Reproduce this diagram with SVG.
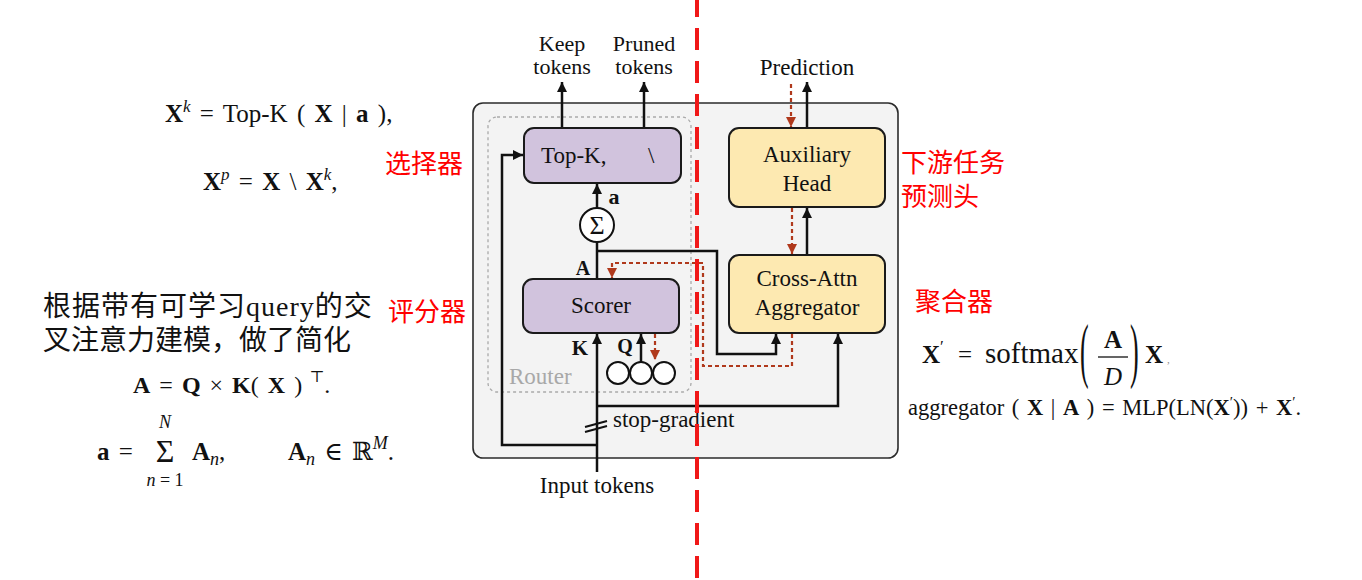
<svg xmlns="http://www.w3.org/2000/svg" width="1362" height="580" viewBox="0 0 1362 580">
<style>
.t{font-family:"Liberation Serif","DejaVu Serif",serif;fill:#111}
.lbl{font-size:23px}
.b{font-weight:bold}
.i{font-style:italic}
.cn{font-family:"Noto Sans CJK SC","Noto Sans",sans-serif;font-size:26px;fill:#f00}
.cnb{font-family:"Liberation Serif","Noto Sans CJK SC",serif;font-size:28px;fill:#111}
.purple{fill:#d1c3dd;stroke:#1a1a1a;stroke-width:2}
.yellow{fill:#fde9b1;stroke:#1a1a1a;stroke-width:2}
.ln{fill:none;stroke:#111;stroke-width:2.5}
.rd{fill:none;stroke:#b0391c;stroke-width:2.2;stroke-dasharray:4 3}
.eq{word-spacing:3px}
</style>
<defs>
<marker id="ah" markerUnits="userSpaceOnUse" markerWidth="10" markerHeight="13" refX="10" refY="5" orient="auto" viewBox="0 0 10 10">
<path d="M0,0 L10,5 L0,10 Z" fill="#111"/>
</marker>
<marker id="ahr" markerUnits="userSpaceOnUse" markerWidth="10" markerHeight="11" refX="10" refY="5" orient="auto" viewBox="0 0 10 10">
<path d="M0,0 L10,5 L0,10 Z" fill="#b0391c"/>
</marker>
</defs>
<rect width="1362" height="580" fill="#fff"/>

<!-- left formulas -->
<g id="formulas-left" class="t">
<text class="eq" x="165" y="122" font-size="25"><tspan class="b">X</tspan><tspan class="i" font-size="17" dy="-10">k</tspan><tspan dy="10"> = Top-K ( </tspan><tspan class="b">X</tspan> | <tspan class="b">a</tspan> ),</text>
<text class="eq" x="203" y="190" font-size="25"><tspan class="b">X</tspan><tspan class="i" font-size="17" dy="-10">p</tspan><tspan dy="10"> = </tspan><tspan class="b">X</tspan> \ <tspan class="b">X</tspan><tspan class="i" font-size="17" dy="-10">k</tspan><tspan dy="10">,</tspan></text>
<text class="eq" x="133" y="393" font-size="24"><tspan class="b">A</tspan> = <tspan class="b">Q</tspan> × <tspan class="b">K</tspan>( <tspan class="b">X</tspan> )<tspan font-size="16" dy="-11"> ⊤</tspan><tspan dy="11">.</tspan></text>
<text class="eq" x="97" y="460" font-size="25"><tspan class="b">a</tspan> =</text>
<text x="165" y="462" font-size="32" text-anchor="middle">Σ</text>
<text x="165" y="428" font-size="18" text-anchor="middle" class="i">N</text>
<text x="165" y="486" font-size="18" text-anchor="middle"><tspan class="i">n</tspan> = 1</text>
<text x="192" y="460" font-size="25"><tspan class="b">A</tspan><tspan class="i" font-size="18" dy="5">n</tspan><tspan dy="-5">,</tspan></text>
<text class="eq" x="288" y="460" font-size="25"><tspan class="b">A</tspan><tspan class="i" font-size="18" dy="5">n</tspan><tspan dy="-5"> ∈ ℝ</tspan><tspan class="i" font-size="18" dy="-11">M</tspan><tspan dy="11">.</tspan></text>
</g>

<g id="note-cn">
<text class="cnb" x="43" y="316" letter-spacing="1">根据带有可学习query的交</text>
<text class="cnb" x="43" y="350">叉注意力建模，做了简化</text>
</g>

<!-- right formulas -->
<g id="formulas-right" class="t">
<text x="922" y="363" font-size="25"><tspan class="b">X</tspan><tspan font-size="17" dy="-11">′</tspan></text>
<text x="958" y="363" font-size="25">=</text>
<text x="985" y="363" font-size="29">softmax</text>
<text transform="translate(1080,374) scale(1,2.8)" font-size="26">(</text>
<text x="1113" y="348" font-size="25" text-anchor="middle" class="b">A</text>
<line x1="1098" y1="357" x2="1128" y2="357" stroke="#111" stroke-width="1.3"/>
<text x="1113" y="385" font-size="25" text-anchor="middle" class="i">D</text>
<text transform="translate(1130,374) scale(1,2.8)" font-size="26">)</text>
<text x="1145" y="363" font-size="25" class="b">X</text>
<text x="1167" y="363" font-size="11" fill="#888">,</text>
<text x="908" y="415" font-size="22.5" style="word-spacing:2px">aggregator ( <tspan class="b">X</tspan> | <tspan class="b">A</tspan> )  = MLP(LN(<tspan class="b">X</tspan><tspan font-size="15" dy="-8">′</tspan><tspan dy="8">)) + </tspan><tspan class="b">X</tspan><tspan font-size="15" dy="-8">′</tspan><tspan dy="8">.</tspan></text>
</g>

<!-- containers -->
<g id="main-box">
<rect x="473" y="103" width="425" height="355" rx="10" fill="#f3f3f3" stroke="#2b2b2b" stroke-width="1.6"/>
</g>
<g id="router">
<rect x="488" y="117" width="203" height="275" rx="9" fill="none" stroke="#aaa" stroke-width="1.3" stroke-dasharray="3 3"/>
<text class="t lbl" x="509" y="384" style="fill:#a8a8a8">Router</text>
</g>

<!-- connectors -->
<g id="connectors">
<path class="ln" d="M597,472 V334" marker-end="url(#ah)"/>
<path class="ln" d="M597,445 H502 V155 H523" marker-end="url(#ah)"/>
<path class="ln" d="M597,406 H838 V334" marker-end="url(#ah)"/>
<path class="ln" d="M597,279 V242"/>
<path class="ln" d="M597,208 V184" marker-end="url(#ah)"/>
<path class="ln" d="M597,251 H717 V354 H776 V334" marker-end="url(#ah)"/>
<path class="ln" d="M641,362 V334" marker-end="url(#ah)"/>
<path class="ln" d="M562,128 V82" marker-end="url(#ah)"/>
<path class="ln" d="M644,128 V82" marker-end="url(#ah)"/>
<path class="ln" d="M807,255 V208" marker-end="url(#ah)"/>
<path class="ln" d="M807,128 V82" marker-end="url(#ah)"/>
<path class="rd" d="M791,84 V127" marker-end="url(#ahr)"/>
<path class="rd" d="M792,208 V254" marker-end="url(#ahr)"/>
<path class="rd" d="M792,334 V366 H703 V263 H612 V278" marker-end="url(#ahr)"/>
<path class="rd" d="M655,334 V360" marker-end="url(#ahr)"/>
<line x1="585" y1="427" x2="607" y2="421" stroke="#111" stroke-width="2"/>
<line x1="585" y1="432" x2="607" y2="426" stroke="#111" stroke-width="2"/>
<text class="t lbl" x="613" y="427">stop-gradient</text>
<text class="t b" x="580" y="355" font-size="21" text-anchor="middle">K</text>
<text class="t b" x="625" y="353" font-size="20" text-anchor="middle">Q</text>
<text class="t b" x="583" y="275" font-size="20" text-anchor="middle">A</text>
<text class="t b" x="614" y="204" font-size="22" text-anchor="middle">a</text>
</g>

<!-- nodes -->
<g id="topk">
<rect class="purple" x="524" y="128" width="157" height="55" rx="10"/>
<text class="t lbl" x="541" y="163">Top-K,</text>
<text class="t lbl" x="648" y="163">\</text>
</g>
<g id="sum">
<circle cx="597" cy="225" r="17" fill="#fff" stroke="#111" stroke-width="2"/>
<text class="t" x="597" y="234" font-size="26" text-anchor="middle">Σ</text>
</g>
<g id="scorer">
<rect class="purple" x="523" y="279" width="156" height="54" rx="10"/>
<text class="t lbl" x="601" y="313" text-anchor="middle">Scorer</text>
</g>
<g id="queries">
<circle cx="618" cy="373" r="11" fill="#fff" stroke="#111" stroke-width="2"/>
<circle cx="641" cy="373" r="11" fill="#fff" stroke="#111" stroke-width="2"/>
<circle cx="664" cy="373" r="11" fill="#fff" stroke="#111" stroke-width="2"/>
</g>
<g id="aux-head">
<rect class="yellow" x="729" y="128" width="156" height="79" rx="10"/>
<text class="t lbl" x="807" y="162" text-anchor="middle">Auxiliary</text>
<text class="t lbl" x="807" y="191" text-anchor="middle">Head</text>
</g>
<g id="cross-attn">
<rect class="yellow" x="729" y="255" width="156" height="78" rx="10"/>
<text class="t lbl" x="807" y="286" text-anchor="middle">Cross-Attn</text>
<text class="t lbl" x="807" y="315" text-anchor="middle">Aggregator</text>
</g>

<g id="io-labels" class="t">
<text x="562" y="51" font-size="22" text-anchor="middle">Keep</text>
<text x="562" y="74" font-size="22" text-anchor="middle">tokens</text>
<text x="644" y="51" font-size="22" text-anchor="middle">Pruned</text>
<text x="644" y="74" font-size="22" text-anchor="middle">tokens</text>
<text x="807" y="75" font-size="23" text-anchor="middle">Prediction</text>
<text x="597" y="493" font-size="23" text-anchor="middle">Input tokens</text>
</g>

<g id="cn-labels">
<text class="cn" x="385" y="173">选择器</text>
<text class="cn" x="388" y="321">评分器</text>
<text class="cn" x="901" y="172">下游任务</text>
<text class="cn" x="901" y="206">预测头</text>
<text class="cn" x="915" y="311">聚合器</text>
</g>

<g id="divider">
<line x1="697" y1="0" x2="697" y2="580" stroke="#f01818" stroke-width="4" stroke-dasharray="22 11" stroke-dashoffset="5"/>
</g>
</svg>
